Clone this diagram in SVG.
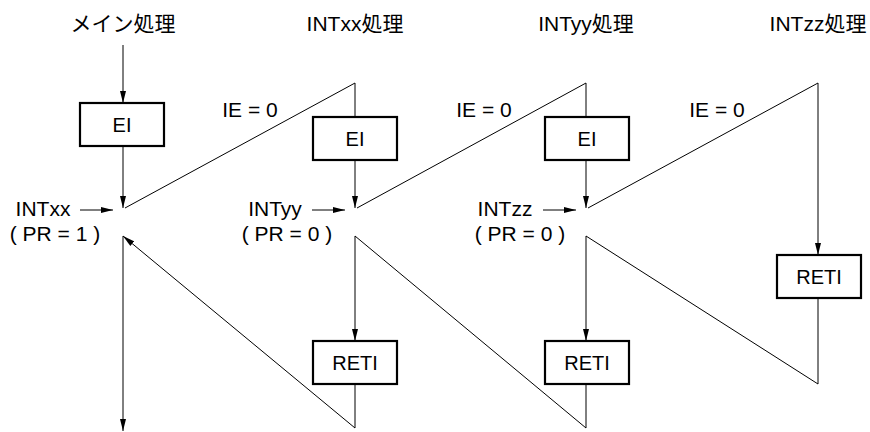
<svg xmlns="http://www.w3.org/2000/svg" width="870" height="432" viewBox="0 0 870 432">
<style>
text{font-family:"Liberation Sans","Noto Sans CJK JP",Arial,sans-serif;font-size:21px;fill:#000}
.c{text-anchor:middle}
.b{font-size:20px}
.box{fill:#fff;stroke:#000;stroke-width:2.2}
.ln{fill:none;stroke:#000;stroke-width:1}
.ar{marker-end:url(#ah)}
</style>
<defs>
<marker id="ah" markerUnits="userSpaceOnUse" markerWidth="13" markerHeight="7" refX="12" refY="3" orient="auto" viewBox="0 0 13 6">
<path d="M0,0 L12,3 L0,6 Z" fill="#000"/>
</marker>
</defs>
<rect width="870" height="432" fill="#fff"/>
<g id="headers">
<text class="c" x="123" y="31">メイン処理</text>
<text class="c" x="355" y="31">INTxx処理</text>
<text class="c" x="586" y="31">INTyy処理</text>
<text class="c" x="818" y="31">INTzz処理</text>
</g>
<g id="connectors">
<line class="ln ar" x1="123" y1="45" x2="123" y2="103"/>
<line class="ln ar" x1="123" y1="146" x2="123" y2="208"/>
<line class="ln" x1="125" y1="208" x2="355" y2="83"/>
<line class="ln" x1="355" y1="83" x2="355" y2="117"/>
<line class="ln ar" x1="355" y1="160" x2="355" y2="208"/>
<line class="ln" x1="357" y1="208" x2="586" y2="83"/>
<line class="ln" x1="586" y1="83" x2="586" y2="117"/>
<line class="ln ar" x1="586" y1="160" x2="586" y2="208"/>
<line class="ln" x1="588" y1="208" x2="818" y2="83"/>
<line class="ln ar" x1="818" y1="83" x2="818" y2="255"/>
<line class="ln" x1="818" y1="298" x2="818" y2="384"/>
<line class="ln" x1="818" y1="384" x2="586" y2="236"/>
<line class="ln ar" x1="586" y1="236" x2="586" y2="341"/>
<line class="ln" x1="586" y1="384" x2="586" y2="428"/>
<line class="ln" x1="586" y1="428" x2="355" y2="236"/>
<line class="ln ar" x1="355" y1="236" x2="355" y2="341"/>
<line class="ln" x1="355" y1="384" x2="355" y2="428"/>
<line class="ln ar" x1="355" y1="428" x2="123" y2="236"/>
<line class="ln ar" x1="123" y1="236" x2="123" y2="431"/>
<line class="ln ar" x1="80" y1="210" x2="113" y2="210"/>
<line class="ln ar" x1="312" y1="210" x2="345" y2="210"/>
<line class="ln ar" x1="543" y1="210" x2="576" y2="210"/>
</g>
<g id="ei-main"><rect class="box" x="80" y="103" width="84" height="43"/><text class="c b" x="122" y="132">EI</text></g>
<g id="ei-xx"><rect class="box" x="313" y="117" width="84" height="43"/><text class="c b" x="355" y="146">EI</text></g>
<g id="ei-yy"><rect class="box" x="545" y="117" width="84" height="43"/><text class="c b" x="587" y="146">EI</text></g>
<g id="reti-xx"><rect class="box" x="313" y="341" width="84" height="43"/><text class="c b" x="355" y="370">RETI</text></g>
<g id="reti-yy"><rect class="box" x="545" y="341" width="84" height="43"/><text class="c b" x="587" y="370">RETI</text></g>
<g id="reti-zz"><rect class="box" x="777" y="255" width="84" height="43"/><text class="c b" x="819" y="284">RETI</text></g>
<g id="labels">
<text class="c" x="250" y="117">IE = 0</text>
<text class="c" x="484" y="117">IE = 0</text>
<text class="c" x="717" y="117">IE = 0</text>
<text class="c" x="43" y="216">INTxx</text>
<text class="c" x="55" y="241">( PR = 1 )</text>
<text class="c" x="275" y="216">INTyy</text>
<text class="c" x="287" y="241">( PR = 0 )</text>
<text class="c" x="505" y="216">INTzz</text>
<text class="c" x="520" y="241">( PR = 0 )</text>
</g>
</svg>
